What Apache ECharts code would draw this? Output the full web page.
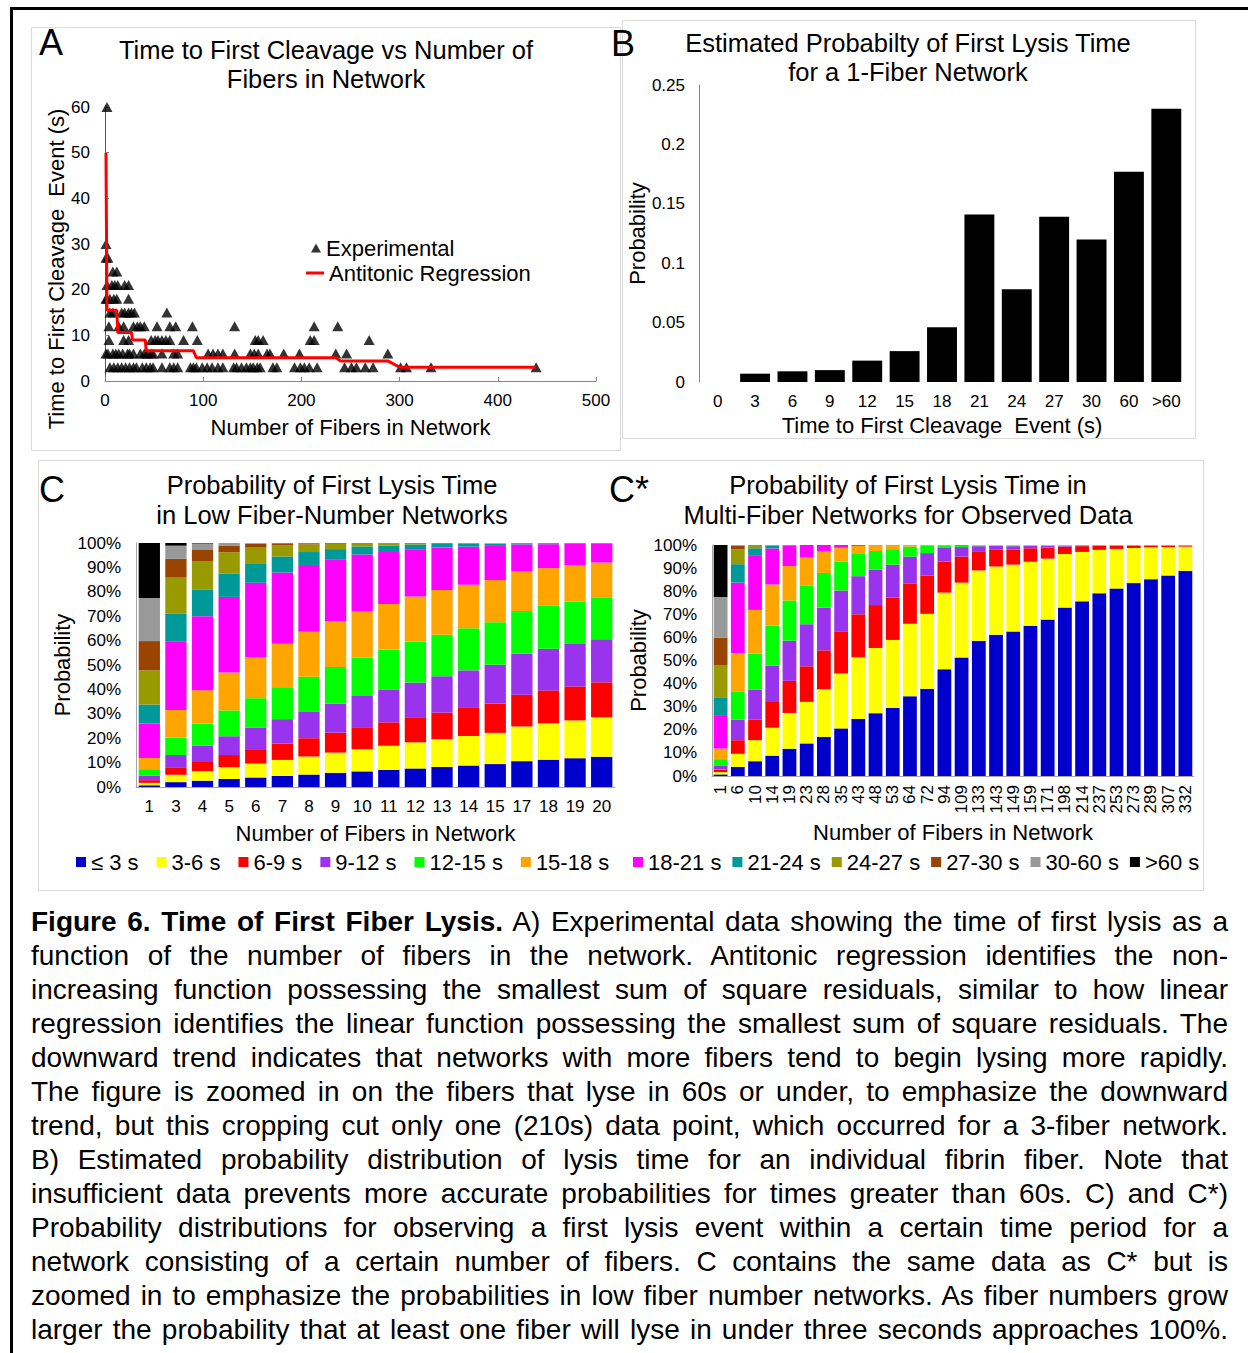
<!DOCTYPE html>
<html>
<head>
<meta charset="utf-8">
<script src="https://cdn.jsdelivr.net/npm/echarts@6/dist/echarts.min.js"></script>
<style>
html,body{margin:0;padding:0;background:#fff;width:1248px;height:1353px;overflow:hidden;position:relative}
#frame{position:absolute;left:10px;top:7px;width:1300px;height:1400px;border-top:3px solid #000;border-left:3px solid #000;box-sizing:border-box}
#chart{position:absolute;left:0;top:0;width:1248px;height:900px}
#caption{position:absolute;left:31px;top:905px;width:1197px;font-family:"Liberation Sans",Arial,sans-serif;font-size:28px;line-height:34px;color:#000}
#caption div{text-align:justify;text-align-last:justify}
</style>
</head>
<body>
<div id="frame"></div>
<div id="chart"></div>
<div id="caption">
<div><b>Figure 6. Time of First Fiber Lysis.</b> A) Experimental data showing the time of first lysis as a</div>
<div>function of the number of fibers in the network. Antitonic regression identifies the non-</div>
<div>increasing function possessing the smallest sum of square residuals, similar to how linear</div>
<div>regression identifies the linear function possessing the smallest sum of square residuals. The</div>
<div>downward trend indicates that networks with more fibers tend to begin lysing more rapidly.</div>
<div>The figure is zoomed in on the fibers that lyse in 60s or under, to emphasize the downward</div>
<div>trend, but this cropping cut only one (210s) data point, which occurred for a 3-fiber network.</div>
<div>B) Estimated probability distribution of lysis time for an individual fibrin fiber. Note that</div>
<div>insufficient data prevents more accurate probabilities for times greater than 60s. C) and C*)</div>
<div>Probability distributions for observing a first lysis event within a certain time period for a</div>
<div>network consisting of a certain number of fibers. C contains the same data as C* but is</div>
<div>zoomed in to emphasize the probabilities in low fiber number networks. As fiber numbers grow</div>
<div>larger the probability that at least one fiber will lyse in under three seconds approaches 100%.</div>
</div>
<script>
// ---------- Panel A: experimental points (fiber count per observed time level, s) ----------
const fibersAt3s  = [5, 9, 13, 17, 21, 25, 29, 32, 38, 42, 46, 49, 58, 66, 70, 74, 87, 90, 93, 99, 104, 109, 115, 120, 131, 134, 139, 144, 148, 151, 155, 158, 171, 175, 193, 199, 203, 208, 216, 244, 251, 256, 265, 273, 301, 307, 332, 439];
const fibersAt6s  = [1, 3, 8, 11, 14, 18, 23, 25, 29, 36, 40, 43, 47, 49, 58, 70, 74, 105, 110, 115, 120, 132, 148, 152, 156, 165, 168, 182, 198, 235, 246, 288];
const fibersAt9s  = [4, 19, 24, 47, 51, 54, 58, 62, 66, 80, 94, 153, 156, 161, 209, 213, 269];
const fibersAt12s = [4, 14, 19, 29, 33, 36, 40, 53, 66, 72, 89, 132, 213, 237];
const fibersAt15s = [5, 8, 17, 20, 24, 27, 30, 63];
const fibersAt18s = [1, 2, 5, 9, 12, 24];
const fibersAt21s = [2, 7, 10, 13, 20, 24];
const fibersAt24s = [8, 12];
const fibersAt27s = [1, 3];
const fibersAt30s = [1];
const fibersAt60s = [2];
const timeLevels  = [3, 6, 9, 12, 15, 18, 21, 24, 27, 30, 60];

// Antitonic regression (fibers, time s)
const fitFibers = [1, 2, 12, 13, 27, 28, 41, 42, 90, 93, 235, 240, 288, 300, 439];
const fitTimes  = [50, 15.5, 15.5, 10.6, 10.6, 9, 9, 6.6, 6.6, 5.1, 5.1, 4.4, 4.4, 3, 3];

// ---------- Panel B ----------
const bTimes = ['0', '3', '6', '9', '12', '15', '18', '21', '24', '27', '30', '60', '>60'];
const bProb  = [0, 0.007, 0.009, 0.010, 0.018, 0.026, 0.046, 0.141, 0.078, 0.139, 0.120, 0.177, 0.230];

// ---------- Bins ----------
const binNames = ['≤ 3 s', '3-6 s', '6-9 s', '9-12 s', '12-15 s', '15-18 s', '18-21 s', '21-24 s', '24-27 s', '27-30 s', '30-60 s', '>60 s'];

// ---------- Panel C (percent) ----------
const lowFibers = ['1', '3', '4', '5', '6', '7', '8', '9', '10', '11', '12', '13', '14', '15', '17', '18', '19', '20'];
const lowLe3     = [0.7, 2.0, 2.6, 3.3, 3.9, 4.5, 5.1, 5.8, 6.4, 7.0, 7.6, 8.2, 8.8, 9.4, 10.6, 11.2, 11.8, 12.4];
const low3to6    = [1.0, 3.0, 3.9, 4.8, 5.7, 6.6, 7.4, 8.3, 9.1, 9.9, 10.7, 11.4, 12.1, 12.8, 14.2, 14.9, 15.5, 16.2];
const low6to9    = [1.1, 3.1, 4.1, 5.0, 5.9, 6.7, 7.5, 8.2, 9.0, 9.6, 10.3, 10.9, 11.5, 12.0, 13.0, 13.5, 13.9, 14.3];
const low9to12   = [1.8, 5.0, 6.4, 7.7, 8.9, 10.0, 11.0, 11.9, 12.8, 13.5, 14.2, 14.9, 15.4, 15.9, 16.8, 17.1, 17.4, 17.7];
const low12to15  = [2.7, 7.2, 9.0, 10.6, 12.0, 13.1, 14.2, 15.0, 15.7, 16.2, 16.7, 17.0, 17.3, 17.4, 17.5, 17.5, 17.4, 17.2];
const low15to18  = [4.6, 11.3, 13.7, 15.5, 16.8, 17.8, 18.4, 18.7, 18.9, 18.8, 18.6, 18.3, 17.8, 17.3, 16.2, 15.5, 14.9, 14.2];
const low18to21  = [14.1, 27.9, 30.3, 31.0, 30.5, 29.2, 27.4, 25.4, 23.4, 21.3, 19.3, 17.4, 15.6, 14.0, 11.1, 9.8, 8.7, 7.8];
const low21to24  = [7.8, 11.5, 10.8, 9.5, 8.0, 6.6, 5.3, 4.2, 3.3, 2.6, 2.0, 1.5, 1.2, 0.9, 0.5, 0.4, 0.3, 0.2];
const low24to27  = [14.0, 14.8, 11.8, 8.8, 6.4, 4.5, 3.1, 2.2, 1.5, 1.0, 0.7, 0.4, 0.3, 0.2, 0.1, 0.1, 0.1, 0.1];
const low27to30  = [12.0, 7.7, 4.8, 2.8, 1.6, 0.9, 0.5, 0.3, 0.1, 0.1, 0, 0, 0, 0, 0, 0, 0, 0];
const low30to60  = [17.7, 5.4, 2.4, 1.0, 0.4, 0.2, 0.1, 0.1, 0, 0, 0, 0, 0, 0, 0, 0, 0, 0];
const lowOver60  = [22.5, 1.1, 0.3, 0.1, 0, 0, 0, 0, 0, 0, 0, 0, 0, 0, 0, 0, 0, 0];

// ---------- Panel C* (percent) ----------
const multiFibers = ['1', '6', '10', '14', '19', '23', '28', '35', '43', '48', '53', '64', '72', '94', '109', '133', '143', '149', '159', '171', '198', '214', '237', '253', '273', '289', '307', '332'];
const multiLe3    = [0.7, 3.9, 6.4, 8.8, 11.8, 14.1, 16.9, 20.6, 24.7, 27.2, 29.5, 34.5, 37.8, 46.2, 51.3, 58.4, 61.1, 62.6, 65.0, 67.7, 72.9, 75.6, 79.1, 81.2, 83.5, 85.2, 86.8, 88.8];
const multi3to6   = [1.0, 5.7, 9.1, 12.1, 15.5, 18.0, 20.7, 23.8, 26.7, 28.2, 29.4, 31.4, 32.4, 33.2, 32.4, 30.6, 29.6, 28.9, 27.8, 26.4, 23.2, 21.4, 18.8, 17.1, 15.2, 13.8, 12.3, 10.5];
const multi6to9   = [1.1, 5.9, 9.0, 11.5, 13.9, 15.4, 16.8, 18.0, 18.6, 18.6, 18.4, 17.5, 16.5, 13.4, 11.3, 8.3, 7.2, 6.6, 5.8, 4.8, 3.2, 2.5, 1.7, 1.3, 1.0, 0.7, 0.6, 0.4];
const multi9to12  = [1.8, 8.9, 12.8, 15.4, 17.4, 18.2, 18.5, 17.9, 16.5, 15.4, 14.2, 11.6, 9.8, 5.9, 4.1, 2.2, 1.7, 1.4, 1.1, 0.8, 0.4, 0.2, 0.1, 0.1, 0, 0, 0, 0];
const multi12to15 = [2.7, 12.0, 15.7, 17.3, 17.4, 16.6, 15.0, 12.5, 9.6, 8.0, 6.7, 4.3, 3.1, 1.2, 0.6, 0.2, 0.1, 0.2, 0.1, 0, 0, 0.3, 0.3, 0.3, 0.3, 0.3, 0.3, 0.3];
const multi15to18 = [4.6, 16.8, 18.9, 17.8, 14.9, 12.3, 9.3, 6.0, 3.5, 2.5, 1.7, 0.8, 0.4, 0.1, 0, 0.3, 0.3, 0.3, 0.3, 0.3, 0.3, 0, 0, 0, 0, 0, 0, 0];
const multi18to21 = [14.1, 30.5, 23.4, 15.6, 8.7, 5.4, 2.9, 1.2, 0.4, 0.2, 0.1, 0, 0, 0, 0.3, 0, 0, 0, 0, 0, 0, 0, 0, 0, 0, 0, 0, 0];
const multi21to24 = [7.8, 8.0, 3.3, 1.2, 0.3, 0.1, 0, 0, 0, 0, 0, 0, 0, 0, 0, 0, 0, 0, 0, 0, 0, 0, 0, 0, 0, 0, 0, 0];
const multi24to27 = [14.0, 6.4, 1.5, 0.3, 0.1, 0, 0, 0, 0, 0, 0, 0, 0, 0, 0, 0, 0, 0, 0, 0, 0, 0, 0, 0, 0, 0, 0, 0];
const multi27to30 = [12.0, 1.6, 0.1, 0, 0, 0, 0, 0, 0, 0, 0, 0, 0, 0, 0, 0, 0, 0, 0, 0, 0, 0, 0, 0, 0, 0, 0, 0];
const multi30to60 = [17.7, 0.4, 0, 0, 0, 0, 0, 0, 0, 0, 0, 0, 0, 0, 0, 0, 0, 0, 0, 0, 0, 0, 0, 0, 0, 0, 0, 0];
const multiOver60 = [22.5, 0, 0, 0, 0, 0, 0, 0, 0, 0, 0, 0, 0, 0, 0, 0, 0, 0, 0, 0, 0, 0, 0, 0, 0, 0, 0, 0];

// ---------- styles ----------
const FONT = 'Liberation Sans, Arial, sans-serif';
const binColors = ['#0000CC', '#FFFF00', '#FF0000', '#9933EE', '#00FF00', '#FFA500', '#FF00FF', '#009999', '#999900', '#994400', '#999999', '#000000'];

const expGroups = [fibersAt3s, fibersAt6s, fibersAt9s, fibersAt12s, fibersAt15s, fibersAt18s, fibersAt21s, fibersAt24s, fibersAt27s, fibersAt30s, fibersAt60s];
const expPoints = [];
expGroups.forEach((arr, i) => arr.forEach(f => expPoints.push([f, timeLevels[i]])));
const fitPoints = fitFibers.map((f, i) => [f, fitTimes[i]]);

const lowBins = [lowLe3, low3to6, low6to9, low9to12, low12to15, low15to18, low18to21, low21to24, low24to27, low27to30, low30to60, lowOver60];
const multiBins = [multiLe3, multi3to6, multi6to9, multi9to12, multi12to15, multi15to18, multi18to21, multi21to24, multi24to27, multi27to30, multi30to60, multiOver60];

function txt(text, x, y, size, align, lh) {
  return {
    type: 'text', x: x, y: y, silent: true,
    style: {
      text: text, fontSize: size, fontFamily: FONT, fill: '#000',
      align: align, verticalAlign: 'middle', textAlign: align, textVerticalAlign: 'middle',
      lineHeight: lh || size
    }
  };
}
function frame(x, y, w, h) {
  return { type: 'rect', silent: true, shape: { x: x + 0.5, y: y + 0.5, width: w, height: h },
    style: { fill: 'none', stroke: '#d9d9d9', lineWidth: 1 } };
}

const nameStyle = { fontSize: 22, color: '#000', fontFamily: FONT };
const labStyle = { fontSize: 17, color: '#000', fontFamily: FONT };

const series = [
  { type: 'scatter', name: 'Experimental', xAxisIndex: 0, yAxisIndex: 0, data: expPoints,
    symbol: 'triangle', symbolSize: [11, 10], itemStyle: { color: '#000' }, clip: false, z: 2 },
  { type: 'line', name: 'Antitonic Regression', xAxisIndex: 0, yAxisIndex: 0, data: fitPoints,
    symbol: 'none', showSymbol: false, lineStyle: { color: '#FF0000', width: 3 }, itemStyle: { color: '#FF0000' }, z: 3 },
  { type: 'bar', xAxisIndex: 1, yAxisIndex: 1, data: bProb, barWidth: '80%', itemStyle: { color: '#000' } }
];
binNames.forEach((n, i) => {
  series.push({ type: 'bar', name: n, stack: 'low', xAxisIndex: 2, yAxisIndex: 2, data: lowBins[i],
    barWidth: '80%', itemStyle: { color: binColors[i] } });
});
binNames.forEach((n, i) => {
  series.push({ type: 'bar', name: n, stack: 'multi', xAxisIndex: 3, yAxisIndex: 3, data: multiBins[i],
    barWidth: '80%', itemStyle: { color: binColors[i] } });
});

const chart = echarts.init(document.getElementById('chart'), null, { renderer: 'svg' });
chart.setOption({
  animation: false,
  textStyle: { fontFamily: FONT, color: '#000' },
  graphic: [
    frame(31, 27, 589, 423),
    frame(622, 20, 573, 418),
    frame(38, 460, 1165, 430),
    txt('A', 39, 42, 36, 'left'),
    txt('B', 611, 43, 36, 'left'),
    txt('C', 39, 489, 36, 'left'),
    txt('C*', 609, 489, 36, 'left'),
    txt('Time to First Cleavage vs Number of\nFibers in Network', 326, 64.5, 25.5, 'center', 29),
    txt('Estimated Probabilty of First Lysis Time\nfor a 1-Fiber Network', 908, 57.5, 25.5, 'center', 29),
    txt('Probability of First Lysis Time\nin Low Fiber-Number Networks', 332, 500, 25.5, 'center', 30),
    txt('Probability of First Lysis Time in\nMulti-Fiber Networks for Observed Data', 908, 500, 25.5, 'center', 30)
  ],
  legend: [
    { data: ['Experimental'], left: 311, top: 237, padding: 0, itemWidth: 10, itemHeight: 9, icon: 'triangle',
      textStyle: { fontSize: 22, color: '#000', fontFamily: FONT }, selectedMode: false },
    { data: ['Antitonic Regression'], left: 306, top: 262, padding: 0, itemWidth: 18, itemHeight: 3, icon: 'rect',
      textStyle: { fontSize: 22, color: '#000', fontFamily: FONT }, selectedMode: false },
    { data: binNames.slice(0, 6), left: 76, top: 851, padding: 0, itemWidth: 10, itemHeight: 10, itemGap: 18, icon: 'rect',
      textStyle: { fontSize: 22, color: '#000', fontFamily: FONT }, selectedMode: false },
    { data: binNames.slice(6), left: 633, top: 851, padding: 0, itemWidth: 10, itemHeight: 10, itemGap: 11, icon: 'rect',
      textStyle: { fontSize: 22, color: '#000', fontFamily: FONT }, selectedMode: false }
  ],
  grid: [
    { left: 105, top: 107, width: 491, height: 274 },
    { left: 699, top: 85, width: 486, height: 297 },
    { left: 136, top: 543, width: 479, height: 244 },
    { left: 712, top: 545, width: 482, height: 231 }
  ],
  xAxis: [
    { gridIndex: 0, type: 'value', min: 0, max: 500, interval: 100,
      axisLine: { show: true, onZero: false, lineStyle: { color: '#868686' } },
      axisTick: { show: true, inside: true, length: 4, lineStyle: { color: '#868686' } },
      axisLabel: Object.assign({ margin: 11 }, labStyle), splitLine: { show: false },
      name: 'Number of Fibers in Network', nameLocation: 'middle', nameGap: 35, nameTextStyle: nameStyle },
    { gridIndex: 1, type: 'category', data: bTimes,
      axisLine: { show: false }, axisTick: { show: false },
      axisLabel: Object.assign({ margin: 11, interval: 0 }, labStyle),
      name: 'Time to First Cleavage  Event (s)', nameLocation: 'middle', nameGap: 32, nameTextStyle: nameStyle },
    { gridIndex: 2, type: 'category', data: lowFibers,
      axisLine: { show: true, lineStyle: { color: '#a6a6a6' } }, axisTick: { show: false },
      axisLabel: Object.assign({ margin: 11, interval: 0 }, labStyle),
      name: 'Number of Fibers in Network', nameLocation: 'middle', nameGap: 35, nameTextStyle: nameStyle },
    { gridIndex: 3, type: 'category', data: multiFibers,
      axisLine: { show: true, lineStyle: { color: '#a6a6a6' } }, axisTick: { show: false },
      axisLabel: Object.assign({ margin: 9, interval: 0, rotate: 90 }, labStyle),
      name: 'Number of Fibers in Network', nameLocation: 'middle', nameGap: 45, nameTextStyle: nameStyle }
  ],
  yAxis: [
    { gridIndex: 0, type: 'value', min: 0, max: 60, interval: 10,
      axisLine: { show: true, lineStyle: { color: '#595959' } },
      axisTick: { show: true, inside: true, length: 4, lineStyle: { color: '#868686' } },
      axisLabel: Object.assign({ margin: 15 }, labStyle), splitLine: { show: false },
      name: 'Time to First Cleavage  Event (s)', nameLocation: 'middle', nameGap: 37,
      nameTextStyle: Object.assign({ padding: [0, 50, 0, 0] }, nameStyle) },
    { gridIndex: 1, type: 'value', min: 0, max: 0.25, interval: 0.05,
      axisLine: { show: true, lineStyle: { color: '#868686' } }, axisTick: { show: false },
      axisLabel: Object.assign({ margin: 14 }, labStyle), splitLine: { show: false },
      name: 'Probability', nameLocation: 'middle', nameGap: 51, nameTextStyle: nameStyle },
    { gridIndex: 2, type: 'value', min: 0, max: 100, interval: 10,
      axisLine: { show: true, lineStyle: { color: '#a6a6a6' } }, axisTick: { show: false },
      axisLabel: Object.assign({ margin: 15, formatter: '{value}%' }, labStyle), splitLine: { show: false },
      name: 'Probability', nameLocation: 'middle', nameGap: 62, nameTextStyle: nameStyle },
    { gridIndex: 3, type: 'value', min: 0, max: 100, interval: 10,
      axisLine: { show: true, lineStyle: { color: '#a6a6a6' } }, axisTick: { show: false },
      axisLabel: Object.assign({ margin: 15, formatter: '{value}%' }, labStyle), splitLine: { show: false },
      name: 'Probability', nameLocation: 'middle', nameGap: 63, nameTextStyle: nameStyle }
  ],
  series: series
});
</script>
</body>
</html>
